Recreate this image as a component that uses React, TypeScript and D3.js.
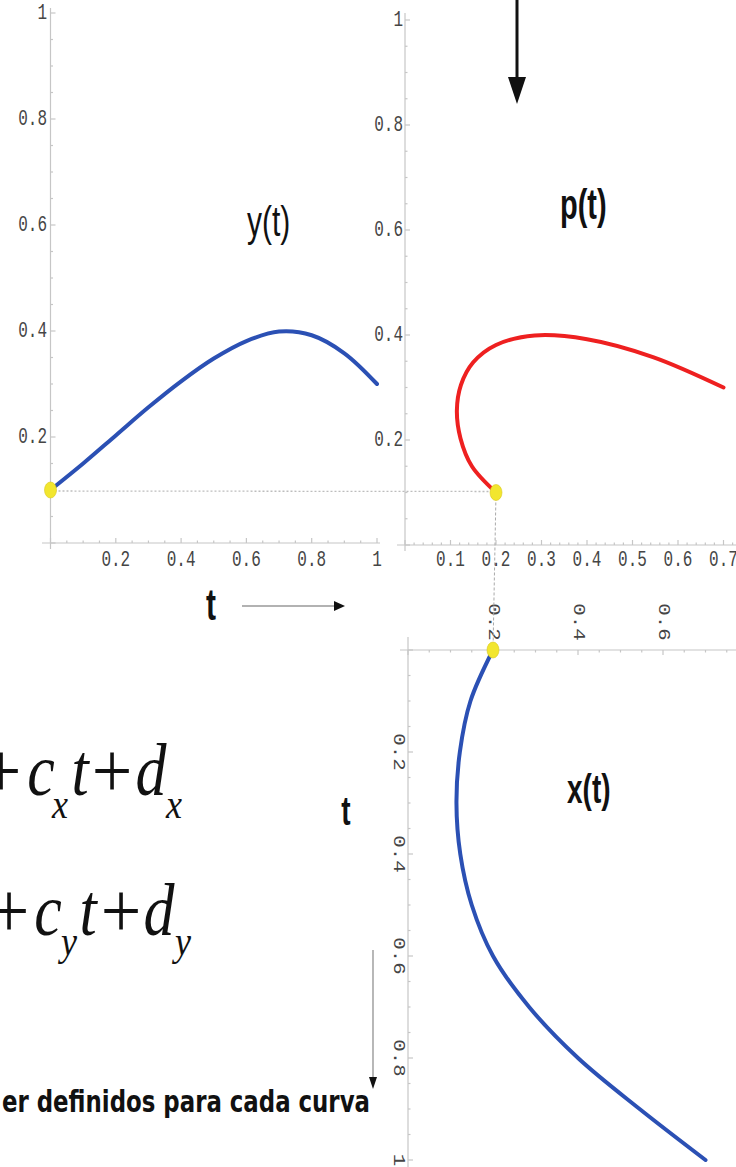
import React from 'react';
import * as d3 from 'd3';

const W = 736;
const H = 1167;
// the source picture is stretched vertically, so text is stretched too
const K = 1.4;

// parameter values and the two coordinate functions
const tValues = [0, 0.1, 0.2, 0.3, 0.4, 0.5, 0.6, 0.7, 0.8, 0.9, 1];
const yOfT = [0.1, 0.15, 0.203, 0.256, 0.305, 0.348, 0.381, 0.399, 0.392, 0.358, 0.3];
const xOfT = [0.2, 0.147, 0.122, 0.114, 0.123, 0.15, 0.2, 0.285, 0.4, 0.545, 0.7];

const unitTicks = [0.2, 0.4, 0.6, 0.8, 1];
const pTicksX = [0.1, 0.2, 0.3, 0.4, 0.5, 0.6, 0.7];
const topTicksX = [0.2, 0.4, 0.6];

const AXIS = '#c6c6c6';
const TICK_TXT = '#454545';
const BLUE = '#2b50b4';
const RED = '#ee2020';
const YELLOW = '#f2e62e';
const MONO = "'Liberation Mono', 'DejaVu Sans Mono', monospace";
const SANS = "'Liberation Sans', Arial, sans-serif";
const SERIF = "'Liberation Serif', 'Times New Roman', serif";

const fmt = (v: number) => (v === 1 ? '1' : d3.format('.1f')(v));

// scales for the three panels
const lx = d3.scaleLinear().domain([0, 1]).range([50.5, 377]);
const ly = d3.scaleLinear().domain([0, 1]).range([543, 13]);
const px = d3.scaleLinear().domain([0, 0.7]).range([405, 723.5]);
const py = d3.scaleLinear().domain([0, 1]).range([545, 20]);
const bx = d3.scaleLinear().domain([0, 1]).range([408, 833]);
const bt = d3.scaleLinear().domain([0, 1]).range([650, 1160]);

const Label = ({ x, y, text, anchor = 'middle', rotate = false, size = 16, family = MONO, weight = 'normal', style = 'normal', fill = TICK_TXT, baseline = 'central', k = K }: any) => (
  <text
    transform={`translate(${x},${y}) scale(1,${k})${rotate ? ' rotate(90)' : ''}`}
    textAnchor={anchor}
    dominantBaseline={baseline}
    fontFamily={family}
    fontSize={size}
    fontWeight={weight}
    fontStyle={style}
    fill={fill}
  >
    {text}
  </text>
);

const isMajor = (v: number, per: number) => Math.abs(v * per - Math.round(v * per)) < 1e-6;

const App = () => {
  const yLine = d3.line<number>().x((_, i) => lx(tValues[i])).y((d) => ly(d)).curve(d3.curveCatmullRom);
  const pLine = d3.line<number>().x((_, i) => px(xOfT[i])).y((_, i) => py(yOfT[i])).curve(d3.curveCatmullRom);
  const xLine = d3.line<number>().x((d) => bx(d)).y((_, i) => bt(tValues[i])).curve(d3.curveCatmullRom);

  const dotL = [lx(tValues[0]), ly(yOfT[0])];
  const dotP = [px(xOfT[0]), py(yOfT[0])];
  const dotB = [bx(xOfT[0]), bt(tValues[0])];

  const minor = (step: number, max: number) => d3.range(0, max + 1e-9, step);

  return (
    <svg width={W} height={H} style={{ position: 'absolute', left: 0, top: 0, background: '#fff' }}>
      <rect width={W} height={H} fill="#fff" />

      {/* y(t) panel axes */}
      <g stroke={AXIS} strokeWidth={1.2}>
        <line x1={42} x2={380} y1={ly(0)} y2={ly(0)} />
        <line x1={lx(0)} x2={lx(0)} y1={8} y2={549} />
        {minor(0.05, 1).map((v) => (
          <line key={'lxm' + v} x1={lx(v)} x2={lx(v)} y1={ly(0)} y2={ly(0) - (isMajor(v, 5) ? 5 : 2.5)} />
        ))}
        {minor(0.05, 1).map((v) => (
          <line key={'lym' + v} x1={lx(0)} x2={lx(0) + (isMajor(v, 5) ? 5 : 2.5)} y1={ly(v)} y2={ly(v)} />
        ))}
      </g>
      {unitTicks.map((v) => (
        <Label key={'lxl' + v} x={lx(v)} y={560} text={fmt(v)} />
      ))}
      {unitTicks.map((v) => (
        <Label key={'lyl' + v} x={47} y={ly(v)} text={fmt(v)} anchor="end" />
      ))}

      {/* p(t) panel axes */}
      <g stroke={AXIS} strokeWidth={1.2}>
        <line x1={397} x2={W} y1={py(0)} y2={py(0)} />
        <line x1={px(0)} x2={px(0)} y1={13} y2={551} />
        {minor(0.02, 0.74).map((v) => (
          <line key={'pxm' + v} x1={px(v)} x2={px(v)} y1={py(0)} y2={py(0) - (isMajor(v, 10) ? 5 : 2.5)} />
        ))}
        {minor(0.05, 1).map((v) => (
          <line key={'pym' + v} x1={px(0)} x2={px(0) + (isMajor(v, 5) ? 5 : 2.5)} y1={py(v)} y2={py(v)} />
        ))}
      </g>
      {pTicksX.map((v) => (
        <Label key={'pxl' + v} x={px(v)} y={560} text={fmt(v)} />
      ))}
      {unitTicks.map((v) => (
        <Label key={'pyl' + v} x={403} y={py(v)} text={fmt(v)} anchor="end" />
      ))}

      {/* x(t) panel axes, turned on its side */}
      <g stroke={AXIS} strokeWidth={1.2}>
        <line x1={400} x2={W} y1={bt(0)} y2={bt(0)} />
        <line x1={bx(0)} x2={bx(0)} y1={637} y2={H} />
        {minor(0.05, 0.75).map((v) => (
          <line key={'bxm' + v} x1={bx(v)} x2={bx(v)} y1={bt(0)} y2={bt(0) + (isMajor(v, 5) ? 5 : 2.5)} />
        ))}
        {minor(0.05, 1).map((v) => (
          <line key={'btm' + v} x1={bx(0)} x2={bx(0) + (isMajor(v, 5) ? 5 : 2.5)} y1={bt(v)} y2={bt(v)} />
        ))}
      </g>
      {topTicksX.map((v) => (
        <Label key={'bxl' + v} x={bx(v)} y={622} text={fmt(v)} rotate k={1.3} />
      ))}
      {unitTicks.map((v) => (
        <Label key={'btl' + v} x={398} y={bt(v)} text={fmt(v)} rotate k={1.3} />
      ))}

      {/* guide lines through the starting point */}
      <line x1={dotL[0]} y1={dotL[1] + 1} x2={dotP[0]} y2={dotP[1] - 1} stroke="#bdbdbd" strokeWidth={1.3} strokeDasharray="2,2" />
      <line x1={dotP[0]} y1={dotP[1]} x2={dotB[0]} y2={dotB[1]} stroke="#aaaaaa" strokeWidth={1} strokeDasharray="3,2" />

      {/* curves */}
      <path d={yLine(yOfT) || ''} fill="none" stroke={BLUE} strokeWidth={4} strokeLinecap="round" />
      <path d={pLine(xOfT) || ''} fill="none" stroke={RED} strokeWidth={4} strokeLinecap="round" />
      <path d={xLine(xOfT) || ''} fill="none" stroke={BLUE} strokeWidth={4} strokeLinecap="round" />

      {[dotL, dotP, dotB].map((d, i) => (
        <ellipse key={'dot' + i} cx={d[0]} cy={d[1]} rx={6} ry={8} fill={YELLOW} stroke="#d8c820" strokeWidth={0.6} />
      ))}

      {/* curve names */}
      <Label x={247} y={236} text="y(t)" anchor="start" size={30} family={SANS} fill="#111" baseline="alphabetic" />
      <Label x={560} y={219} text="p(t)" anchor="start" size={29} family={SANS} weight="bold" fill="#111" baseline="alphabetic" k={1.45} />
      <Label x={567} y={803} text="x(t)" anchor="start" size={28} family={SANS} weight="bold" fill="#111" baseline="alphabetic" k={1.45} />
      <Label x={211} y={620} text="t" size={30} family={SANS} weight="bold" fill="#111" baseline="alphabetic" k={1.45} />
      <Label x={346} y={825} text="t" size={28} family={SANS} weight="bold" fill="#111" baseline="alphabetic" k={1.45} />

      {/* arrows */}
      <line x1={517} x2={517} y1={0} y2={80} stroke="#111" strokeWidth={3} />
      <polygon points="508,77 526,77 517,104" fill="#111" />
      <line x1={242} x2={336} y1={606} y2={606} stroke="#999" strokeWidth={1.5} />
      <polygon points="334,601 345,606 334,611" fill="#111" />
      <line x1={373} x2={373} y1={950} y2={1079} stroke="#888" strokeWidth={1.2} />
      <polygon points="369,1077 377,1077 373,1089" fill="#111" />

      {/* equations, cut off at the left edge */}
      <g>
        <Label x={1} y={797} text="+" size={72} family={SERIF} fill="#111" baseline="alphabetic" k={1.1} />
        <Label x={41} y={795} text="c" size={62} family={SERIF} style="italic" fill="#111" baseline="alphabetic" k={1.2} />
        <Label x={60} y={818} text="x" size={36} family={SERIF} style="italic" fill="#111" baseline="alphabetic" k={1.2} />
        <Label x={80} y={795} text="t" size={62} family={SERIF} style="italic" fill="#111" baseline="alphabetic" k={1.2} />
        <Label x={112} y={797} text="+" size={72} family={SERIF} fill="#111" baseline="alphabetic" k={1.1} />
        <Label x={151} y={795} text="d" size={62} family={SERIF} style="italic" fill="#111" baseline="alphabetic" k={1.2} />
        <Label x={174} y={818} text="x" size={36} family={SERIF} style="italic" fill="#111" baseline="alphabetic" k={1.2} />

        <Label x={9} y={937} text="+" size={72} family={SERIF} fill="#111" baseline="alphabetic" k={1.1} />
        <Label x={48} y={935} text="c" size={62} family={SERIF} style="italic" fill="#111" baseline="alphabetic" k={1.2} />
        <Label x={69} y={955} text="y" size={36} family={SERIF} style="italic" fill="#111" baseline="alphabetic" k={1.2} />
        <Label x={88} y={935} text="t" size={62} family={SERIF} style="italic" fill="#111" baseline="alphabetic" k={1.2} />
        <Label x={121} y={937} text="+" size={72} family={SERIF} fill="#111" baseline="alphabetic" k={1.1} />
        <Label x={159} y={935} text="d" size={62} family={SERIF} style="italic" fill="#111" baseline="alphabetic" k={1.2} />
        <Label x={183} y={955} text="y" size={36} family={SERIF} style="italic" fill="#111" baseline="alphabetic" k={1.2} />
      </g>

      <text
        transform={`translate(2,1112) scale(1,1.45)`}
        fontFamily="'DejaVu Sans', Verdana, sans-serif"
        fontWeight="bold"
        fontSize={21}
        fill="#111"
        textLength={368}
        lengthAdjust="spacingAndGlyphs"
      >
        er definidos para cada curva
      </text>
    </svg>
  );
};

export default App;
